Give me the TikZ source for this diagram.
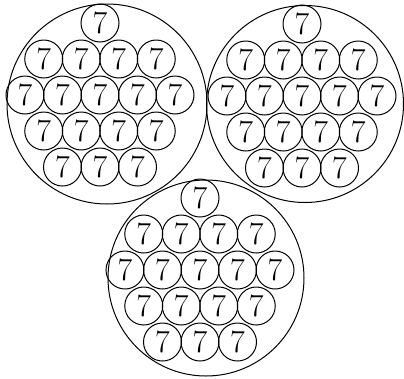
\documentclass[tikz,border=0pt]{standalone}
\begin{document}
\begin{tikzpicture}[x=1pt,y=-1pt,
  disc/.style={circle, draw, line width=1pt, inner sep=0pt},
  cell/.style={circle, draw, line width=1pt, inner sep=0pt, minimum size=38pt,
    font=\fontsize{32}{32}\selectfont}]
\useasboundingbox (0,0) rectangle (404,378);
\node[disc, minimum size=200pt] (L) at (107,104) {};
\node[disc, minimum size=197pt] (R) at (305,104) {};
\node[disc, minimum size=196pt] (B) at (206,278) {};
\foreach \c/\cx/\cy in {L/100/95, R/302/96, B/200/270}{
  \foreach \i/\u/\v in {1/0/-2,
      2/-1.5/-1, 3/-0.5/-1, 4/0.5/-1, 5/1.5/-1,
      6/-2/0, 7/-1/0, 8/0/0, 9/1/0, 10/2/0,
      11/-1.5/1, 12/-0.5/1, 13/0.5/1, 14/1.5/1,
      15/-1/2, 16/0/2, 17/1/2}{
    \node[cell] (\c\i) at ({\cx+\u*37.5},{\cy+\v*36}) {7};
  }
}
\end{tikzpicture}
\end{document}
